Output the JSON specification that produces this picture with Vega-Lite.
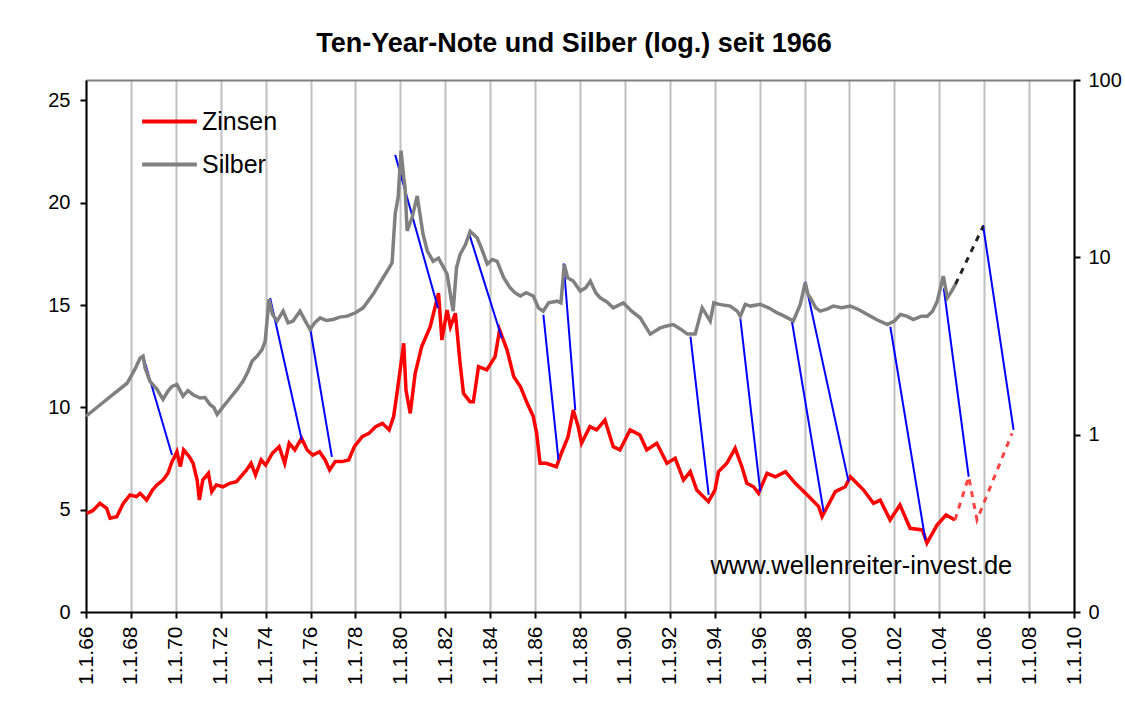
{
  "$schema": "https://vega.github.io/schema/vega-lite/v6.json",
  "width": 988,
  "height": 532,
  "autosize": "none",
  "padding": {"left": 86, "top": 80, "right": 51, "bottom": 104},
  "background": "white",
  "title": {"text": "Ten-Year-Note und Silber (log.) seit 1966", "font": "Liberation Sans", "fontSize": 27, "fontWeight": "bold", "anchor": "middle", "baseline": "alphabetic", "offset": -9, "dx": -6, "color": "black"},
  "config": {"view": {"stroke": null}, "font": "Liberation Sans"},
  "datasets": {
    "zinsen": [
      {"jahr":1966.03,"wert":4.82},{"jahr":1966.30,"wert":4.95},{"jahr":1966.62,"wert":5.31},{"jahr":1966.92,"wert":5.07},{"jahr":1967.07,"wert":4.58},{"jahr":1967.37,"wert":4.66},{"jahr":1967.66,"wert":5.31},{"jahr":1967.96,"wert":5.72},{"jahr":1968.25,"wert":5.64},{"jahr":1968.41,"wert":5.80},{"jahr":1968.70,"wert":5.47},{"jahr":1968.96,"wert":5.96},{"jahr":1969.16,"wert":6.21},{"jahr":1969.43,"wert":6.45},{"jahr":1969.65,"wert":6.78},{"jahr":1969.83,"wert":7.35},{"jahr":1969.95,"wert":7.59},{"jahr":1970.05,"wert":7.83},{"jahr":1970.20,"wert":7.10},{"jahr":1970.35,"wert":7.92},{"jahr":1970.60,"wert":7.59},{"jahr":1970.77,"wert":7.27},{"jahr":1970.95,"wert":6.45},{"jahr":1971.05,"wert":5.47},{"jahr":1971.20,"wert":6.45},{"jahr":1971.45,"wert":6.78},{"jahr":1971.60,"wert":5.88},{"jahr":1971.80,"wert":6.21},{"jahr":1972.10,"wert":6.12},{"jahr":1972.40,"wert":6.29},{"jahr":1972.70,"wert":6.37},{"jahr":1972.95,"wert":6.69},{"jahr":1973.15,"wert":6.94},{"jahr":1973.35,"wert":7.27},{"jahr":1973.55,"wert":6.69},{"jahr":1973.80,"wert":7.43},{"jahr":1974.00,"wert":7.18},{"jahr":1974.30,"wert":7.76},{"jahr":1974.60,"wert":8.08},{"jahr":1974.85,"wert":7.27},{"jahr":1975.05,"wert":8.25},{"jahr":1975.30,"wert":7.92},{"jahr":1975.60,"wert":8.49},{"jahr":1975.85,"wert":7.92},{"jahr":1976.10,"wert":7.67},{"jahr":1976.40,"wert":7.83},{"jahr":1976.65,"wert":7.43},{"jahr":1976.85,"wert":6.94},{"jahr":1977.10,"wert":7.35},{"jahr":1977.40,"wert":7.35},{"jahr":1977.70,"wert":7.43},{"jahr":1977.95,"wert":8.08},{"jahr":1978.30,"wert":8.57},{"jahr":1978.60,"wert":8.73},{"jahr":1978.90,"wert":9.06},{"jahr":1979.20,"wert":9.22},{"jahr":1979.50,"wert":8.90},{"jahr":1979.70,"wert":9.55},{"jahr":1979.85,"wert":10.69},{"jahr":1980.05,"wert":12.32},{"jahr":1980.15,"wert":13.13},{"jahr":1980.25,"wert":10.85},{"jahr":1980.44,"wert":9.71},{"jahr":1980.66,"wert":11.67},{"jahr":1980.95,"wert":12.97},{"jahr":1981.33,"wert":13.94},{"jahr":1981.55,"wert":14.92},{"jahr":1981.70,"wert":15.58},{"jahr":1981.85,"wert":13.29},{"jahr":1982.08,"wert":14.76},{"jahr":1982.23,"wert":13.94},{"jahr":1982.45,"wert":14.60},{"jahr":1982.66,"wert":12.16},{"jahr":1982.81,"wert":10.69},{"jahr":1983.10,"wert":10.28},{"jahr":1983.25,"wert":10.28},{"jahr":1983.48,"wert":11.99},{"jahr":1983.85,"wert":11.83},{"jahr":1984.22,"wert":12.48},{"jahr":1984.42,"wert":13.78},{"jahr":1984.75,"wert":12.81},{"jahr":1985.05,"wert":11.50},{"jahr":1985.35,"wert":11.01},{"jahr":1985.65,"wert":10.20},{"jahr":1985.92,"wert":9.55},{"jahr":1986.07,"wert":8.73},{"jahr":1986.22,"wert":7.27},{"jahr":1986.50,"wert":7.27},{"jahr":1986.95,"wert":7.10},{"jahr":1987.17,"wert":7.76},{"jahr":1987.47,"wert":8.57},{"jahr":1987.70,"wert":9.87},{"jahr":1987.92,"wert":9.06},{"jahr":1988.07,"wert":8.25},{"jahr":1988.44,"wert":9.06},{"jahr":1988.74,"wert":8.90},{"jahr":1989.11,"wert":9.38},{"jahr":1989.48,"wert":8.08},{"jahr":1989.78,"wert":7.92},{"jahr":1990.23,"wert":8.90},{"jahr":1990.67,"wert":8.65},{"jahr":1990.97,"wert":7.92},{"jahr":1991.42,"wert":8.25},{"jahr":1991.87,"wert":7.27},{"jahr":1992.24,"wert":7.51},{"jahr":1992.61,"wert":6.45},{"jahr":1992.91,"wert":6.86},{"jahr":1993.20,"wert":5.96},{"jahr":1993.72,"wert":5.39},{"jahr":1994.01,"wert":5.96},{"jahr":1994.17,"wert":6.86},{"jahr":1994.54,"wert":7.27},{"jahr":1994.91,"wert":8.00},{"jahr":1995.21,"wert":7.10},{"jahr":1995.43,"wert":6.29},{"jahr":1995.73,"wert":6.12},{"jahr":1995.95,"wert":5.80},{"jahr":1996.33,"wert":6.78},{"jahr":1996.70,"wert":6.61},{"jahr":1997.15,"wert":6.86},{"jahr":1997.59,"wert":6.29},{"jahr":1998.19,"wert":5.64},{"jahr":1998.63,"wert":5.15},{"jahr":1998.78,"wert":4.66},{"jahr":1999.37,"wert":5.88},{"jahr":1999.81,"wert":6.12},{"jahr":2000.04,"wert":6.61},{"jahr":2000.63,"wert":5.96},{"jahr":2001.07,"wert":5.31},{"jahr":2001.37,"wert":5.47},{"jahr":2001.81,"wert":4.50},{"jahr":2002.25,"wert":5.23},{"jahr":2002.70,"wert":4.09},{"jahr":2003.25,"wert":4.01},{"jahr":2003.45,"wert":3.37},{"jahr":2003.90,"wert":4.25},{"jahr":2004.30,"wert":4.74},{"jahr":2004.70,"wert":4.50}
    ],
    "zinsen_prognose": [
      {"jahr":2004.70,"wert":4.50},{"jahr":2005.31,"wert":6.61},{"jahr":2005.68,"wert":4.50},{"jahr":2007.24,"wert":8.73}
    ],
    "silber": [
      {"jahr":1966.00,"wert":1.27},{"jahr":1966.62,"wert":1.47},{"jahr":1967.29,"wert":1.72},{"jahr":1967.83,"wert":1.95},{"jahr":1968.18,"wert":2.34},{"jahr":1968.41,"wert":2.70},{"jahr":1968.54,"wert":2.77},{"jahr":1968.63,"wert":2.38},{"jahr":1968.85,"wert":2.00},{"jahr":1969.16,"wert":1.80},{"jahr":1969.43,"wert":1.58},{"jahr":1969.65,"wert":1.76},{"jahr":1969.83,"wert":1.87},{"jahr":1970.05,"wert":1.92},{"jahr":1970.32,"wert":1.65},{"jahr":1970.54,"wert":1.77},{"jahr":1970.77,"wert":1.68},{"jahr":1971.08,"wert":1.61},{"jahr":1971.30,"wert":1.62},{"jahr":1971.52,"wert":1.48},{"jahr":1971.70,"wert":1.42},{"jahr":1971.84,"wert":1.30},{"jahr":1972.06,"wert":1.41},{"jahr":1972.42,"wert":1.61},{"jahr":1972.73,"wert":1.80},{"jahr":1972.99,"wert":2.00},{"jahr":1973.22,"wert":2.28},{"jahr":1973.40,"wert":2.60},{"jahr":1973.62,"wert":2.77},{"jahr":1973.84,"wert":3.02},{"jahr":1973.98,"wert":3.37},{"jahr":1974.06,"wert":4.37},{"jahr":1974.15,"wert":5.81},{"jahr":1974.30,"wert":4.78},{"jahr":1974.51,"wert":4.37},{"jahr":1974.78,"wert":4.97},{"jahr":1975.00,"wert":4.27},{"jahr":1975.22,"wert":4.37},{"jahr":1975.53,"wert":4.97},{"jahr":1975.80,"wert":4.30},{"jahr":1975.98,"wert":3.92},{"jahr":1976.20,"wert":4.30},{"jahr":1976.43,"wert":4.56},{"jahr":1976.70,"wert":4.40},{"jahr":1977.00,"wert":4.46},{"jahr":1977.30,"wert":4.60},{"jahr":1977.63,"wert":4.66},{"jahr":1978.00,"wert":4.87},{"jahr":1978.34,"wert":5.19},{"jahr":1978.79,"wert":6.20},{"jahr":1979.23,"wert":7.67},{"jahr":1979.50,"wert":8.72},{"jahr":1979.63,"wert":9.32},{"jahr":1979.77,"wert":17.6},{"jahr":1979.90,"wert":21.7},{"jahr":1980.03,"wert":39.9},{"jahr":1980.15,"wert":28.2},{"jahr":1980.21,"wert":24.7},{"jahr":1980.30,"wert":14.1},{"jahr":1980.52,"wert":16.7},{"jahr":1980.75,"wert":22.2},{"jahr":1981.01,"wert":13.5},{"jahr":1981.20,"wert":10.85},{"jahr":1981.46,"wert":9.5},{"jahr":1981.70,"wert":9.9},{"jahr":1982.08,"wert":8.05},{"jahr":1982.35,"wert":4.97},{"jahr":1982.50,"wert":8.72},{"jahr":1982.66,"wert":10.4},{"jahr":1982.90,"wert":11.8},{"jahr":1983.11,"wert":14.0},{"jahr":1983.42,"wert":12.9},{"jahr":1983.60,"wert":11.35},{"jahr":1983.87,"wert":9.17},{"jahr":1984.10,"wert":9.73},{"jahr":1984.31,"wert":9.5},{"jahr":1984.60,"wert":7.67},{"jahr":1984.89,"wert":6.73},{"jahr":1985.10,"wert":6.32},{"jahr":1985.34,"wert":6.05},{"jahr":1985.60,"wert":6.32},{"jahr":1985.92,"wert":6.05},{"jahr":1986.15,"wert":5.19},{"jahr":1986.36,"wert":4.97},{"jahr":1986.60,"wert":5.54},{"jahr":1986.98,"wert":5.66},{"jahr":1987.15,"wert":5.54},{"jahr":1987.30,"wert":9.13},{"jahr":1987.45,"wert":7.67},{"jahr":1987.70,"wert":7.35},{"jahr":1988.01,"wert":6.45},{"jahr":1988.25,"wert":6.73},{"jahr":1988.46,"wert":7.35},{"jahr":1988.70,"wert":6.32},{"jahr":1988.90,"wert":5.91},{"jahr":1989.20,"wert":5.6},{"jahr":1989.48,"wert":5.19},{"jahr":1989.93,"wert":5.54},{"jahr":1990.30,"wert":4.97},{"jahr":1990.68,"wert":4.56},{"jahr":1991.13,"wert":3.69},{"jahr":1991.57,"wert":4.00},{"jahr":1991.85,"wert":4.1},{"jahr":1992.15,"wert":4.18},{"jahr":1992.50,"wert":3.92},{"jahr":1992.78,"wert":3.69},{"jahr":1993.13,"wert":3.69},{"jahr":1993.44,"wert":5.19},{"jahr":1993.80,"wert":4.37},{"jahr":1993.96,"wert":5.54},{"jahr":1994.20,"wert":5.43},{"jahr":1994.69,"wert":5.31},{"jahr":1995.00,"wert":4.97},{"jahr":1995.14,"wert":4.66},{"jahr":1995.36,"wert":5.43},{"jahr":1995.60,"wert":5.31},{"jahr":1996.03,"wert":5.43},{"jahr":1996.40,"wert":5.19},{"jahr":1996.79,"wert":4.86},{"jahr":1997.10,"wert":4.66},{"jahr":1997.50,"wert":4.37},{"jahr":1997.81,"wert":5.43},{"jahr":1998.03,"wert":7.19},{"jahr":1998.15,"wert":6.20},{"jahr":1998.26,"wert":5.91},{"jahr":1998.50,"wert":5.19},{"jahr":1998.70,"wert":4.97},{"jahr":1999.00,"wert":5.1},{"jahr":1999.28,"wert":5.31},{"jahr":1999.65,"wert":5.2},{"jahr":2000.04,"wert":5.31},{"jahr":2000.40,"wert":5.08},{"jahr":2000.80,"wert":4.76},{"jahr":2001.20,"wert":4.46},{"jahr":2001.69,"wert":4.18},{"jahr":2002.00,"wert":4.37},{"jahr":2002.27,"wert":4.76},{"jahr":2002.55,"wert":4.66},{"jahr":2002.85,"wert":4.46},{"jahr":2003.20,"wert":4.66},{"jahr":2003.47,"wert":4.66},{"jahr":2003.70,"wert":4.97},{"jahr":2003.91,"wert":5.66},{"jahr":2004.18,"wert":7.84},{"jahr":2004.36,"wert":5.91},{"jahr":2004.55,"wert":6.45},{"jahr":2004.72,"wert":7.04}
    ],
    "silber_prognose": [
      {"jahr":2004.72,"wert":7.04},{"jahr":2005.96,"wert":15.0}
    ],
    "verbindungen": [
      {"jahr1":1968.54,"wert1":12.51,"jahr2":1969.83,"wert2":7.67},
      {"jahr1":1974.20,"wert1":15.35,"jahr2":1975.61,"wert2":8.41},
      {"jahr1":1975.98,"wert1":13.88,"jahr2":1976.95,"wert2":7.58},
      {"jahr1":1979.77,"wert1":22.34,"jahr2":1981.68,"wert2":14.84},
      {"jahr1":1983.08,"wert1":18.43,"jahr2":1984.52,"wert2":13.38},
      {"jahr1":1986.37,"wert1":14.52,"jahr2":1987.04,"wert2":7.43},
      {"jahr1":1987.27,"wert1":17.04,"jahr2":1987.79,"wert2":9.87},
      {"jahr1":1992.92,"wert1":13.46,"jahr2":1993.73,"wert2":5.72},
      {"jahr1":1995.14,"wert1":14.35,"jahr2":1996.03,"wert2":5.88},
      {"jahr1":1997.44,"wert1":14.19,"jahr2":1998.85,"wert2":4.90},
      {"jahr1":1998.03,"wert1":16.14,"jahr2":1999.96,"wert2":6.37},
      {"jahr1":2001.82,"wert1":13.94,"jahr2":2003.38,"wert2":3.52},
      {"jahr1":2004.20,"wert1":15.82,"jahr2":2005.31,"wert2":6.61},
      {"jahr1":2005.95,"wert1":18.91,"jahr2":2007.31,"wert2":8.90}
    ],
    "quelle": [
      {"jahr":2000.53,"wert":2.25,"text":"www.wellenreiter-invest.de"}
    ]
  },
  "layer": [
    {
      "layer": [
        {
          "data": {"name": "zinsen"},
          "mark": {"type": "line", "strokeWidth": 3.5, "strokeJoin": "miter"},
          "encoding": {
            "x": {"field": "jahr", "type": "quantitative", "scale": {"domain": [1966, 2010], "nice": false, "zero": false},
              "axis": {"orient": "bottom", "title": null, "values": [1966,1968,1970,1972,1974,1976,1978,1980,1982,1984,1986,1988,1990,1992,1994,1996,1998,2000,2002,2004,2006,2008,2010],
                "labelExpr": "'1.1.' + slice(format(datum.value, 'd'), 2)", "labelAngle": 270, "labelAlign": "right", "labelBaseline": "middle", "labelFont": "Liberation Sans", "labelFontSize": 21, "labelColor": "black", "labelPadding": 8, "labelOverlap": false, "labelFlush": false,
                "grid": true, "gridColor": "#c0c0c0", "gridWidth": 2, "domainColor": "black", "domainWidth": 2, "tickColor": "black", "tickWidth": 2, "tickSize": 6}},
            "y": {"field": "wert", "type": "quantitative", "scale": {"domain": [0, 26], "nice": false},
              "axis": {"orient": "left", "title": null, "values": [0,5,10,15,20,25], "grid": false, "labelFont": "Liberation Sans", "labelFontSize": 20, "labelColor": "black", "labelPadding": 10, "domainColor": "black", "domainWidth": 2, "tickColor": "black", "tickWidth": 2, "tickSize": 6}},
            "color": {"datum": "Zinsen", "type": "nominal", "scale": {"domain": ["Zinsen", "Silber"], "range": ["#ff0000", "#808080"]},
              "legend": {"orient": "none", "legendX": 54, "legendY": 12, "title": null, "symbolType": "stroke", "symbolSize": 3000, "symbolStrokeWidth": 4, "labelFont": "Liberation Sans", "labelFontSize": 25, "labelColor": "black", "labelOffset": 3, "rowPadding": -16}}
          }
        },
        {
          "data": {"name": "zinsen_prognose"},
          "mark": {"type": "line", "strokeWidth": 3, "strokeDash": [6, 6], "color": "#ff4444"},
          "encoding": {"x": {"field": "jahr", "type": "quantitative"}, "y": {"field": "wert", "type": "quantitative"}}
        },
        {
          "data": {"name": "verbindungen"},
          "mark": {"type": "rule", "strokeWidth": 2, "color": "#0000ff"},
          "encoding": {"x": {"field": "jahr1", "type": "quantitative"}, "x2": {"field": "jahr2"}, "y": {"field": "wert1", "type": "quantitative"}, "y2": {"field": "wert2"}}
        },
        {
          "data": {"name": "quelle"},
          "mark": {"type": "text", "font": "Liberation Sans", "fontSize": 25.5, "color": "black", "align": "center", "baseline": "middle"},
          "encoding": {"x": {"field": "jahr", "type": "quantitative"}, "y": {"field": "wert", "type": "quantitative"}, "text": {"field": "text"}}
        }
      ]
    },
    {
      "layer": [
        {
          "data": {"name": "silber"},
          "mark": {"type": "line", "strokeWidth": 3.5, "strokeJoin": "miter"},
          "encoding": {
            "x": {"field": "jahr", "type": "quantitative", "axis": {"orient": "top", "title": null, "labels": false, "ticks": false, "grid": false, "domainColor": "#808080", "domainWidth": 2, "minExtent": 0, "maxExtent": 0, "offset": 0}},
            "y": {"field": "wert", "type": "quantitative", "scale": {"type": "log", "domain": [0.1, 100], "nice": false},
              "axis": {"orient": "right", "title": null, "values": [0.1, 1, 10, 100], "format": "d", "grid": false, "labelFont": "Liberation Sans", "labelFontSize": 20, "labelColor": "black", "labelPadding": 8, "domainColor": "black", "domainWidth": 2, "tickColor": "black", "tickWidth": 2, "tickSize": 6}},
            "color": {"datum": "Silber", "type": "nominal"}
          }
        },
        {
          "data": {"name": "silber_prognose"},
          "mark": {"type": "line", "strokeWidth": 3, "strokeDash": [6, 6], "color": "#222222"},
          "encoding": {
            "x": {"field": "jahr", "type": "quantitative", "axis": {"orient": "top", "title": null, "labels": false, "ticks": false, "grid": false, "domainColor": "#808080", "domainWidth": 2, "minExtent": 0, "maxExtent": 0, "offset": 0}},
            "y": {"field": "wert", "type": "quantitative"}
          }
        }
      ]
    }
  ],
  "resolve": {"scale": {"y": "independent"}, "axis": {"x": "independent"}}
}
